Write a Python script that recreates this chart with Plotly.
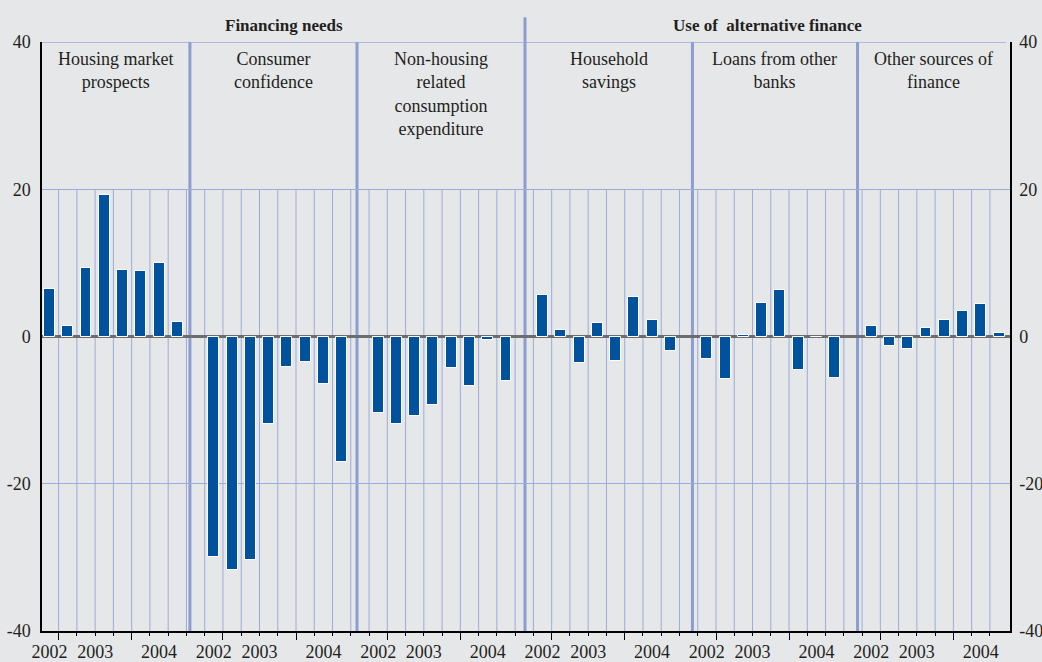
import plotly.graph_objects as go

# ---------------- data ----------------
quarters = ["2002 Q4", "2003 Q1", "2003 Q2", "2003 Q3", "2003 Q4", "2004 Q1", "2004 Q2", "2004 Q3"]
panel_titles = [
    "Housing market<br>prospects",
    "Consumer<br>confidence",
    "Non-housing<br>related<br>consumption<br>expenditure",
    "Household<br>savings",
    "Loans from other<br>banks",
    "Other sources of<br>finance",
]
housing_market = [6.5, 1.4, 9.3, 19.2, 9.1, 8.95, 10.0, 2.0]
consumer_confidence = [-29.9, -31.7, -30.4, -11.85, -4.1, -3.4, -6.4, -17.1]
non_housing_consumption = [-10.45, -11.85, -10.8, -9.35, -4.3, -6.7, -0.5, -6.1]
household_savings = [5.6, 0.86, -3.6, 1.86, -3.3, 5.4, 2.2, -2.0]
loans_other_banks = [-3.0, -5.8, 0.2, 4.6, 6.3, -4.6, -0.1, -5.7]
other_sources = [1.4, -1.35, -1.7, 1.1, 2.3, 3.5, 4.4, 0.5]
series = [housing_market, consumer_confidence, non_housing_consumption,
          household_savings, loans_other_banks, other_sources]
group_titles = ["Financing needs", "Use of  alternative finance"]
y_ticks = [-40, -20, 0, 20, 40]
y_ticktext = ["-40", "-20", "0", "20", "40"]

# ---------------- layout helpers ----------------
n_q = len(quarters)
slot = n_q + 1                      # one empty slot between panels
x_range = [-0.41, 52.6]
dividers = [7.69, 16.84, 26.04, 35.21, 44.25]
bounds = [x_range[0]] + dividers + [x_range[1]]

BAR = "#00529c"
BG = "#e6e7e9"
GRID = "#9dabd9"
DIV = "#8c9ed1"
TXT = "#231f20"
FONT = "Liberation Serif"

fig = go.Figure()

xs_all, ys_all = [], []
for p, vals in enumerate(series):
    for q, v in enumerate(vals):
        xs_all.append(p * slot + q)
        ys_all.append(v)

fig.add_trace(go.Bar(
    x=xs_all, y=ys_all, width=0.6,
    marker=dict(color=BAR, line=dict(color="white", width=1)),
    hoverinfo="x+y", showlegend=False,
))
# helper (empty) trace for right axis
fig.add_trace(go.Scatter(x=[None], y=[None], yaxis="y2", xaxis="x", showlegend=False,
                         hoverinfo="skip"))

# year label positions (center of each year's quarters)
years = []
for q in quarters:
    y = q.split()[0]
    if y not in years:
        years.append(y)
label_vals, label_text = [], []
major_ticks = []
for p in range(len(series)):
    for yr in years:
        idx = [i for i, q in enumerate(quarters) if q.startswith(yr)]
        label_vals.append(p * slot + sum(idx) / len(idx))
        label_text.append(yr)
    for i in range(1, n_q):
        if quarters[i][:4] != quarters[i - 1][:4]:
            major_ticks.append(p * slot + i - 0.5)
minor_ticks = [k + 0.5 for k in range(len(series) * slot - 2)]

shapes = []
# vertical gridlines (only from bottom up to 20)
for xv in minor_ticks:
    shapes.append(dict(type="line", xref="x", yref="y", x0=xv, x1=xv, y0=-40, y1=20,
                       line=dict(color=GRID, width=1), layer="below"))
# top border
shapes.append(dict(type="line", xref="x", yref="y", x0=x_range[0], x1=52.38, y0=40, y1=40,
                   line=dict(color=GRID, width=1.5), layer="below"))
# panel dividers
for i, dv in enumerate(dividers):
    shapes.append(dict(type="line", xref="x", yref="y", x0=dv, x1=dv, y0=-40, y1=40,
                       line=dict(color=DIV, width=3), layer="below"))
# main divider extension above the plot
xp = (dividers[2] - x_range[0]) / (x_range[1] - x_range[0])
shapes.append(dict(type="line", xref="paper", yref="paper", x0=xp, x1=xp, y0=1, y1=1.042,
                   line=dict(color=DIV, width=3)))

annotations = []
for p, t in enumerate(panel_titles):
    annotations.append(dict(x=(bounds[p] + bounds[p + 1]) / 2, y=40, xref="x", yref="y",
                            text=t, showarrow=False, yanchor="top", yshift=-5,
                            font=dict(family=FONT, size=18, color=TXT), align="center"))
for g, t in enumerate(group_titles):
    xc = (bounds[3 * g] + bounds[3 * g + 3]) / 2
    annotations.append(dict(x=xc, y=1, xref="x", yref="paper", text="<b>" + t + "</b>",
                            showarrow=False, yanchor="middle", yshift=17,
                            font=dict(family=FONT, size=17, color=TXT)))

fig.update_layout(
    width=1042, height=662,
    margin=dict(l=42, r=32, t=42, b=31, autoexpand=False),
    paper_bgcolor=BG, plot_bgcolor=BG,
    font=dict(family=FONT, size=18, color=TXT),
    bargap=0,
    shapes=shapes, annotations=annotations,
    xaxis=dict(range=x_range, showgrid=False, zeroline=False, automargin=False,
               showline=True, linecolor="black", linewidth=1.5,
               tickmode="array", tickvals=major_ticks, ticks="outside", ticklen=7,
               tickcolor="black", tickwidth=1.2, showticklabels=False,
               minor=dict(tickmode="array", tickvals=minor_ticks, ticks="outside",
                          ticklen=3, tickcolor="black", tickwidth=1.2, showgrid=False)),
    xaxis2=dict(range=x_range, overlaying="x", anchor="y", side="bottom", automargin=False,
                showgrid=False, zeroline=False, showline=False,
                tickmode="array", tickvals=label_vals, ticktext=label_text,
                ticks="outside", ticklen=4, tickcolor="rgba(0,0,0,0)",
                tickfont=dict(family=FONT, size=18, color=TXT)),
    yaxis=dict(range=[-40, 40], tickmode="array", tickvals=y_ticks, ticktext=y_ticktext,
               showgrid=True, gridcolor=GRID, gridwidth=1, automargin=False,
               zeroline=True, zerolinecolor="#6d6d6d", zerolinewidth=2.5,
               showline=True, linecolor="black", linewidth=1.5, ticks="outside",
               ticklen=6, tickcolor="rgba(0,0,0,0)",
               tickfont=dict(family=FONT, size=18, color=TXT)),
    yaxis2=dict(range=[-40, 40], overlaying="y", side="right", anchor="x", automargin=False,
                tickmode="array", tickvals=y_ticks, ticktext=y_ticktext,
                showgrid=False, zeroline=False,
                showline=True, linecolor="black", linewidth=1.5, ticks="outside",
                ticklen=4, tickcolor="rgba(0,0,0,0)",
                tickfont=dict(family=FONT, size=18, color=TXT)),
)
# label axis needs a trace to render
fig.add_trace(go.Scatter(x=[None], y=[None], xaxis="x2", yaxis="y", showlegend=False,
                         hoverinfo="skip"))

fig.write_html("out.html", config={"displayModeBar": False},
               post_script="document.body.style.margin='0px';")
